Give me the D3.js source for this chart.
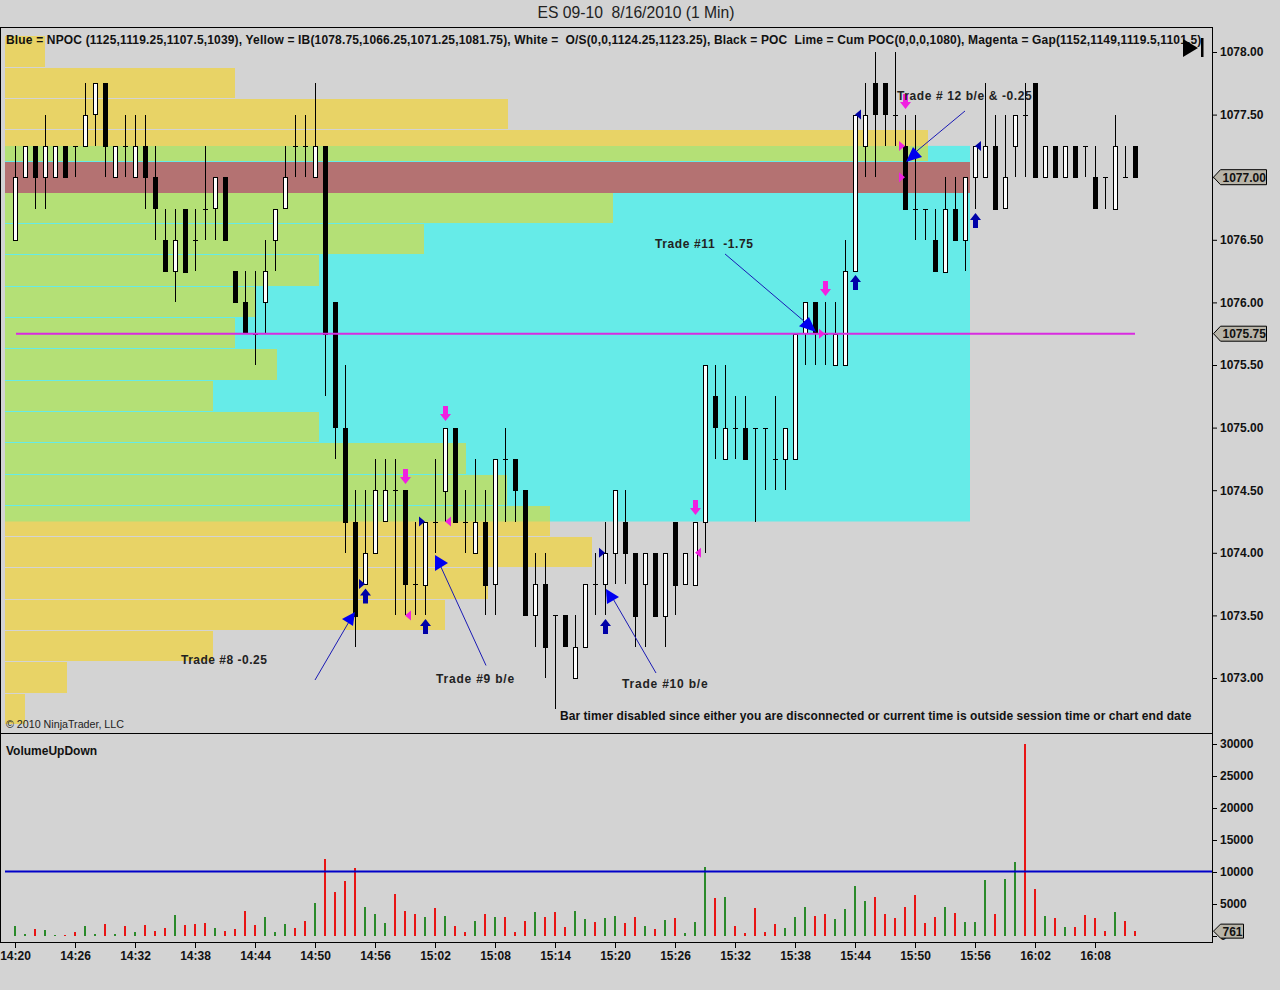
<!DOCTYPE html>
<html>
<head>
<meta charset="utf-8">
<title>ES 09-10</title>
<script src="https://cdn.jsdelivr.net/npm/d3@7/dist/d3.min.js"></script>
<style>
  html, body { margin: 0; padding: 0; background: #d3d3d3; }
  svg { display: block; font-family: "Liberation Sans", Arial, sans-serif; }
</style>
</head>
<body>
<div id="chart"></div>
<script>
// one bar per minute, 14:20 to 16:12
const opens = [
  1076.5,1077,1077.25,1077,1077,1077.25,1077.25,1077.25,1077.5,1077.75,
  1077,1077.25,1077,1077.25,1077,1076.5,1076.25,1076.75,1076.5,1076.75,
  1076.75,1077,1076.25,1076,1075.75,1076,1076.5,1076.75,1077.25,1077.25,
  1077,1077.25,1076,1075,1074.25,1073.75,1074,1074.25,1074.5,1074.5,
  1073.75,1073.75,1074.25,1074.5,1075,1074.25,1074,1074.25,1073.75,1074.75,
  1074.75,1074.5,1073.5,1073.75,1073.5,1073.5,1073,1073.25,1073.75,1073.75,
  1074,1074.25,1074,1073.75,1074,1073.5,1074.25,1073.75,1073.75,1074.25,
  1075.25,1074.75,1075,1075,1075,1075,1074.75,1074.75,1074.75,1075.75,
  1076,1075.75,1075.5,1075.5,1076.25,1077.25,1077.75,1077.75,1077.5,1077.25,
  1076.75,1076.75,1076.5,1076.25,1076.75,1076.5,1077,1077,1077.25,1076.75,
  1077.25,1077.5,1077.75,1077,1077.25,1077,1077.25,1077.25,1077,1077,
  1076.75,1077,1077.25
];
const closes = [
  1077,1077.25,1077,1077.25,1077.25,1077,1077.25,1077.5,1077.75,1077.25,
  1077.25,1077.25,1077.25,1077,1076.75,1076.25,1076.5,1076.25,1076.5,1076.75,
  1077,1076.5,1076,1075.75,1075.75,1076.25,1076.75,1077,1077.25,1077.25,
  1077.25,1075.75,1075,1074.25,1073.5,1074,1074.5,1074.5,1074.5,1073.75,
  1073.75,1074.25,1074.25,1075,1074.25,1074.25,1074.25,1073.75,1074.75,1074.75,
  1074.5,1073.5,1073.75,1073.25,1073.5,1073.25,1073.25,1073.75,1073.75,1074,
  1074.5,1074,1073.5,1074,1073.5,1074,1073.75,1074,1074.25,1075.5,
  1075,1075,1075,1074.75,1075,1075,1074.75,1075,1075.75,1076,
  1075.75,1075.75,1075.75,1076.25,1077.5,1077.5,1077.5,1077.5,1077.5,1076.75,
  1076.75,1076.75,1076.25,1076.75,1076.5,1077,1077.25,1077.25,1076.75,1077,
  1077.5,1077.5,1077,1077.25,1077,1077.25,1077,1077.25,1076.75,1077,
  1077.25,1077,1077
];
const highs = [
  1077.25,1077.25,1077.25,1077.5,1077.25,1077.25,1077.25,1077.75,1077.75,1077.75,
  1077.25,1077.5,1077.5,1077.5,1077.25,1076.75,1076.75,1076.75,1076.75,1077.25,
  1077,1077,1076.25,1076.25,1076.25,1076.5,1076.75,1077.25,1077.5,1077.5,
  1077.75,1077.25,1076,1075.5,1074.5,1074.5,1074.75,1074.75,1074.75,1074.5,
  1074.25,1074.25,1074.75,1075,1075,1074.5,1074.75,1074.5,1074.75,1075,
  1074.75,1074.5,1074,1074,1073.5,1073.5,1073.5,1073.75,1074,1074.25,
  1074.5,1074.5,1074,1074,1074,1074,1074.25,1074,1074.25,1075.5,
  1075.5,1075.5,1075.25,1075.25,1075,1075,1075.25,1075,1075.75,1076,
  1076,1076,1076,1076.5,1077.5,1077.75,1078,1077.75,1078,1077.5,
  1077.5,1076.75,1076.75,1077,1077,1077,1077.25,1077.75,1077.5,1077.5,
  1077.5,1077.75,1077.75,1077.25,1077.25,1077.25,1077.25,1077.25,1077.25,1077,
  1077.5,1077.25,1077.25
];
const lows = [
  1076.5,1077,1076.75,1076.75,1077,1077,1077,1077.25,1077.25,1077,
  1077,1077,1077,1076.75,1076.5,1076.25,1076,1076.25,1076.25,1076.5,
  1076.5,1076.5,1076,1075.75,1075.5,1075.75,1076.25,1076.75,1077,1077,
  1077,1075.25,1074.75,1074,1073.25,1073.75,1074,1074.25,1073.5,1073.5,
  1073.5,1073.5,1074,1074.25,1074.25,1074,1074,1073.5,1073.5,1074.25,
  1074.25,1073.5,1073.25,1073,1072.75,1073.25,1073,1073.25,1073.5,1073.5,
  1073.75,1073.75,1073.25,1073.25,1073.5,1073.25,1073.5,1073.75,1073.75,1074,
  1074.75,1074.75,1074.75,1074.75,1074.25,1074.5,1074.5,1074.5,1074.75,1075.5,
  1075.5,1075.5,1075.5,1075.5,1076.25,1077,1077,1077.25,1077.25,1076.75,
  1076.5,1076.5,1076.25,1076.25,1076.5,1076.25,1076.75,1077,1076.75,1076.75,
  1077,1077,1077,1077,1077,1077,1077,1077,1076.75,1076.75,
  1076.75,1077,1077
];
const volumes = [
  1540,300,1080,920,100,100,600,1540,300,1850,
  300,1540,600,1700,770,1230,3230,1700,1850,2000,
  1230,770,1080,3850,1700,2920,600,1850,1230,2300,
  5080,12000,6900,8600,10600,4600,3400,2000,6600,3850,
  3400,2920,4300,3080,1540,600,2300,3400,2920,2920,
  600,2300,3700,2920,3700,1380,3850,2600,2150,2770,
  3080,2000,2920,1540,1080,2460,2770,460,2150,10800,
  6000,6150,1540,460,4300,600,1850,1230,2920,4460,
  3080,3400,2600,4150,7850,5400,6150,3400,2770,4600,
  6460,2000,2920,4460,3540,2150,2150,8770,3400,8930,
  11540,30000,7400,3080,2770,1380,1380,3230,2770,770,
  3700,2300,761
];

const timeLabels = ["14:20","14:26","14:32","14:38","14:44","14:50","14:56","15:02","15:08","15:14","15:20","15:26","15:32","15:38","15:44","15:50","15:56","16:02","16:08"];
const priceTicks = [1078,1077.5,1077,1076.5,1076,1075.5,1075,1074.5,1074,1073.5,1073];
const volumeTicks = [30000,25000,20000,15000,10000,5000,0];

// volume profile, share of the POC row
const profilePrices = [1078,1077.75,1077.5,1077.25,1077,1076.75,1076.5,1076.25,1076,1075.75,1075.5,1075.25,1075,1074.75,1074.5,1074.25,1074,1073.75,1073.5,1073.25,1073,1072.75];
const profileShares = [4.1,23.8,52.1,95.6,100,63,43.4,32.5,25.9,23.8,28.2,21.6,32.5,47.8,52,56.5,60.8,50,45.6,21.6,6.4,2.1];
const pocPrice = 1077;
const valueHigh = 1077.25;
const valueLow = 1074.25;
const gapPrice = 1075.75;
const lastPrice = 1077;
const gapStartBar = 0;
const gapEndBar = 112;

// trade markers: [bar, price]
const entryUpArrows = [[35,1073.65],[41,1073.407],[59,1073.407],[84,1076.155],[96,1076.65]];
const exitDownArrows = [[39,1074.613],[43,1075.117],[68,1074.366],[81,1076.115],[89,1077.609]];
const blueRightMarks = [[35,1073.75],[41,1074.25],[59,1074]];
const blueLeftMarks = [[84,1077.5],[96,1077.25]];
const pinkLeftMarks = [[39,1073.5],[43,1074.25],[68,1074]];
const pinkRightMarks = [[81,1075.75],[89,1077.25],[89,1077]];

// hand drawn notes: label, line, arrow head, in [bar, price]
const tradeNames = ["Trade #8 -0.25","Trade #9 b/e","Trade #10 b/e","Trade #11  -1.75","Trade # 12 b/e & -0.25"];
const tradeLabelAt = [[16.6,1073.11],[42.1,1072.96],[60.7,1072.92],[64,1076.435],[88.2,1077.617]];
const tradeLines = [
  [[30,1072.984],[33.5,1073.463]],
  [[47.1,1073.1],[42.5,1073.903]],
  [[64.1,1073.04],[59.7,1073.647]],
  [[71,1076.387],[79.7,1075.796]],
  [[95,1077.529],[89.7,1077.177]]
];
const tradeHeads = [
  [[34,1073.527],[32.7,1073.471],[33.8,1073.415]],
  [[42,1073.982],[43.3,1073.919],[42,1073.855]],
  [[59.1,1073.711],[60.4,1073.647],[59.2,1073.591]],
  [[78.4,1075.81],[79.4,1075.883],[80.1,1075.764]],
  [[89.1,1077.121],[89.8,1077.241],[90.7,1077.161]]
];

const headerText = "Blue = NPOC (1125,1119.25,1107.5,1039), Yellow = IB(1078.75,1066.25,1071.25,1081.75), White =  O/S(0,0,1124.25,1123.25), Black = POC  Lime = Cum POC(0,0,0,1080), Magenta = Gap(1152,1149,1119.5,1101.5)";
const timerText = "Bar timer disabled since either you are disconnected or current time is outside session time or chart end date";

document.addEventListener("DOMContentLoaded", () => {
  const width = 1280;
  const height = 990;
  const plotLeft = 5;
  const plotRight = 1212;
  const plotTop = 27;
  const splitY = 733;
  const plotBottom = 942;

  const x = d3.scaleLinear().domain([0, 112]).range([15, 1135]);
  const y = d3.scaleLinear().domain([1078, 1073]).range([52, 678]);
  const yVol = d3.scaleLinear().domain([0, 30000]).range([936, 744]);
  const profileX = d3.scaleLinear().domain([0, 100]).range([plotLeft, 970]);

  const barIndex = (label) => {
    const [h, m] = label.split(":").map(Number);
    return (h - 14) * 60 + m - 20;
  };
  const px = ([b, p]) => [x(b), y(p)];
  const rowTop = (p) => Math.round(y(p + 0.125));

  const svg = d3.select("#chart").append("svg").attr("width", width).attr("height", height);
  svg.append("rect").attr("width", width).attr("height", height).attr("fill", "#d3d3d3");

  const defs = svg.append("defs");
  defs.append("clipPath").attr("id", "valueArea").append("rect")
    .attr("x", plotLeft).attr("width", plotRight - plotLeft)
    .attr("y", y(valueHigh)).attr("height", y(valueLow) - y(valueHigh));

  svg.append("text")
    .attr("x", 636).attr("y", 18)
    .attr("text-anchor", "middle")
    .attr("font-size", 15.7).attr("fill", "#222")
    .style("white-space", "pre")
    .text("ES 09-10  8/16/2010 (1 Min)");

  // value area behind the profile
  svg.append("rect")
    .attr("x", plotLeft).attr("y", y(valueHigh))
    .attr("width", profileX(100) - plotLeft).attr("height", y(valueLow) - y(valueHigh))
    .attr("fill", "#66ebe8");

  const rows = profilePrices.map((p, i) => ({ p, share: profileShares[i] }));
  const drawRows = (g, color) => {
    g.attr("shape-rendering", "crispEdges")
      .selectAll("rect").data(rows).join("rect")
      .attr("x", plotLeft)
      .attr("y", (d) => rowTop(d.p))
      .attr("width", (d) => profileX(d.share) - plotLeft)
      .attr("height", (d) => rowTop(d.p - 0.25) - rowTop(d.p) - 1)
      .attr("fill", color);
  };
  svg.append("g").call(drawRows, "#e8d366");
  svg.append("g").attr("clip-path", "url(#valueArea)").call(drawRows, "#b4e076");
  svg.append("rect")
    .attr("x", plotLeft).attr("y", rowTop(pocPrice))
    .attr("width", profileX(100) - plotLeft).attr("height", rowTop(pocPrice - 0.25) - rowTop(pocPrice))
    .attr("fill", "#b47272");

  // candles
  const bars = opens.map((o, i) => ({ i, o, c: closes[i], h: highs[i], l: lows[i], v: volumes[i] }));
  const candles = svg.append("g").attr("shape-rendering", "crispEdges");
  candles.selectAll(".wick").data(bars).join("line")
    .attr("class", "wick")
    .attr("x1", (d) => x(d.i) + 0.5).attr("x2", (d) => x(d.i) + 0.5)
    .attr("y1", (d) => y(d.h)).attr("y2", (d) => y(d.l))
    .attr("stroke", "#000");
  candles.selectAll(".doji").data(bars.filter((d) => d.o === d.c)).join("line")
    .attr("class", "doji")
    .attr("x1", (d) => x(d.i) - 2).attr("x2", (d) => x(d.i) + 3)
    .attr("y1", (d) => Math.round(y(d.o)) + 0.5).attr("y2", (d) => Math.round(y(d.o)) + 0.5)
    .attr("stroke", "#000");
  candles.selectAll(".body").data(bars.filter((d) => d.o !== d.c)).join("rect")
    .attr("class", "body")
    .attr("x", (d) => x(d.i) - 1.5)
    .attr("y", (d) => Math.round(y(Math.max(d.o, d.c))) + 0.5)
    .attr("width", 4)
    .attr("height", (d) => Math.round(Math.abs(y(d.o) - y(d.c))))
    .attr("fill", (d) => (d.c > d.o ? "#fff" : "#000"))
    .attr("stroke", "#000");

  // gap line
  svg.append("line")
    .attr("x1", x(gapStartBar) + 1).attr("x2", x(gapEndBar))
    .attr("y1", y(gapPrice)).attr("y2", y(gapPrice))
    .attr("stroke", "#d82be0").attr("stroke-width", 2);

  // fat arrows
  const fatArrow = (dir) => {
    const s = dir;
    return `M0,${-8 * s}L5.5,${-1 * s}L2.5,${-1 * s}L2.5,${7 * s}L-2.5,${7 * s}L-2.5,${-1 * s}L-5.5,${-1 * s}Z`;
  };
  svg.append("g").selectAll("path").data(entryUpArrows).join("path")
    .attr("transform", (d) => `translate(${x(d[0]) + 0.5},${y(d[1])})`)
    .attr("d", fatArrow(1)).attr("fill", "#0000a8");
  svg.append("g").selectAll("path").data(exitDownArrows).join("path")
    .attr("transform", (d) => `translate(${x(d[0]) + 0.5},${y(d[1])})`)
    .attr("d", fatArrow(-1)).attr("fill", "#f020e0");

  // small triangles, tip on the bar
  const tri = (dir) => `M0,0L${dir * 6},-5L${dir * 6},5Z`;
  const marks = (data, dir, color) => {
    svg.append("g").selectAll("path").data(data).join("path")
      .attr("transform", (d) => `translate(${x(d[0])},${y(d[1])})`)
      .attr("d", tri(dir)).attr("fill", color);
  };
  marks(blueRightMarks, -1, "#0000a8");
  marks(blueLeftMarks, 1, "#0000a8");
  marks(pinkLeftMarks, 1, "#f020e0");
  marks(pinkRightMarks, -1, "#f020e0");

  // trade notes
  const tradeSpacing = [0.5, 0.8, 0.8, 0.62, 0.6];
  svg.append("g").selectAll("line").data(tradeLines).join("line")
    .attr("x1", (d) => x(d[0][0])).attr("y1", (d) => y(d[0][1]))
    .attr("x2", (d) => x(d[1][0])).attr("y2", (d) => y(d[1][1]))
    .attr("stroke", "#1a1ab4").attr("stroke-width", 1);
  svg.append("g").selectAll("polygon").data(tradeHeads).join("polygon")
    .attr("points", (d) => d.map(px).map((q) => q.join(",")).join(" "))
    .attr("fill", "#0000f0");
  svg.append("g").selectAll("text").data(tradeNames).join("text")
    .attr("x", (d, i) => x(tradeLabelAt[i][0]))
    .attr("y", (d, i) => y(tradeLabelAt[i][1]))
    .attr("font-size", 12).attr("font-weight", "bold").attr("fill", "#222")
    .style("white-space", "pre")
    .style("letter-spacing", (d, i) => `${tradeSpacing[i]}px`)
    .text((d) => d);

  // header and small captions
  svg.append("text").attr("x", 6).attr("y", 44)
    .attr("font-size", 12).attr("font-weight", "bold").attr("fill", "#111")
    .style("white-space", "pre").style("letter-spacing", "0.165px").text(headerText);
  svg.append("text").attr("x", 560).attr("y", 720)
    .attr("font-size", 12).attr("font-weight", "bold").attr("fill", "#111")
    .style("letter-spacing", "0.055px").text(timerText);
  svg.append("text").attr("x", 6).attr("y", 728)
    .attr("font-size", 10.7).attr("fill", "#222").text("© 2010 NinjaTrader, LLC");
  svg.append("text").attr("x", 6).attr("y", 755)
    .attr("font-size", 12).attr("font-weight", "bold").attr("fill", "#111").text("VolumeUpDown");

  // jump to end button
  svg.append("path").attr("d", "M1183,39L1198,48L1183,57Z").attr("fill", "#000");
  svg.append("rect").attr("x", 1201).attr("y", 38).attr("width", 2.5).attr("height", 19).attr("fill", "#000");

  // volume panel
  svg.append("g").attr("shape-rendering", "crispEdges").selectAll("rect").data(bars).join("rect")
    .attr("x", (d) => x(d.i) - 1)
    .attr("y", (d) => yVol(d.v))
    .attr("width", 2)
    .attr("height", (d) => yVol(0) - yVol(d.v))
    .attr("fill", (d) => (d.c > d.o ? "#2a8a2a" : "#e81414"));
  svg.append("line")
    .attr("x1", plotLeft).attr("x2", plotRight)
    .attr("y1", yVol(10000) - 0.5).attr("y2", yVol(10000) - 0.5)
    .attr("stroke", "#0000c8").attr("stroke-width", 2);

  // frame
  const frame = svg.append("g").attr("stroke", "#000").attr("shape-rendering", "crispEdges");
  frame.append("line").attr("x1", 0).attr("x2", plotRight).attr("y1", plotTop + 0.5).attr("y2", plotTop + 0.5);
  frame.append("line").attr("x1", 0).attr("x2", plotRight).attr("y1", splitY + 0.5).attr("y2", splitY + 0.5);
  frame.append("line").attr("x1", 0).attr("x2", plotRight).attr("y1", plotBottom + 0.5).attr("y2", plotBottom + 0.5);
  frame.append("line").attr("x1", 0.5).attr("x2", 0.5).attr("y1", plotTop).attr("y2", plotBottom + 1);

  // axes
  const styleAxis = (g) => {
    g.select(".domain").remove();
    g.selectAll("text").attr("font-size", 12).attr("font-weight", "bold")
      .attr("font-family", "\"Liberation Sans\", Arial, sans-serif").attr("fill", "#111");
  };
  svg.append("g").attr("transform", `translate(${plotRight},0)`)
    .call(d3.axisRight(y).tickValues(priceTicks).tickFormat(d3.format(".2f")).tickSize(5).tickPadding(3))
    .call(styleAxis);
  svg.append("g").attr("transform", `translate(${plotRight},0)`)
    .call(d3.axisRight(yVol).tickValues(volumeTicks).tickFormat(d3.format("d")).tickSize(5).tickPadding(3))
    .call(styleAxis);
  svg.append("g").attr("transform", `translate(0,${plotBottom})`)
    .call(d3.axisBottom(x).tickValues(timeLabels.map(barIndex))
      .tickFormat((d, i) => timeLabels[i]).tickSize(6).tickPadding(3))
    .call(styleAxis);
  svg.append("line")
    .attr("x1", plotRight + 0.5).attr("x2", plotRight + 0.5)
    .attr("y1", plotTop).attr("y2", plotBottom + 1)
    .attr("stroke", "#000").attr("shape-rendering", "crispEdges");

  // value tags on the axis
  const tag = (cy, w, label, h) => {
    const tipX = plotRight + 1.5;
    const g = svg.append("g");
    g.append("polygon")
      .attr("points", `${tipX},${cy} ${tipX + 7},${cy - h} ${tipX + w},${cy - h} ${tipX + w},${cy + h} ${tipX + 7},${cy + h}`)
      .attr("fill", "#b8b4a8").attr("stroke", "#000");
    g.append("text").attr("x", tipX + 9).attr("y", cy + 4.5)
      .attr("font-size", 12).attr("font-weight", "bold").attr("fill", "#111").text(label);
  };
  tag(y(lastPrice), 53, d3.format(".2f")(lastPrice), 7.5);
  tag(y(gapPrice), 53, d3.format(".2f")(gapPrice), 7.5);
  tag(yVol(volumes[volumes.length - 1]), 30, String(volumes[volumes.length - 1]), 7);
});
</script>
</body>
</html>
